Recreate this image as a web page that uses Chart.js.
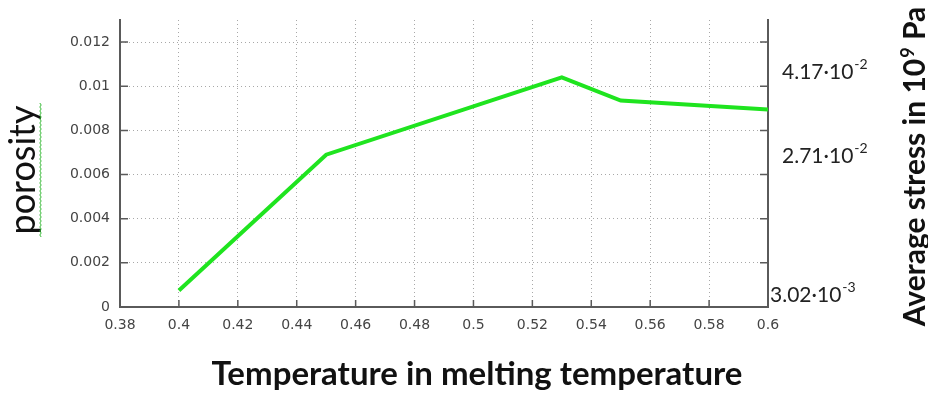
<!DOCTYPE html>
<html>
<head>
<meta charset="utf-8">
<script src="https://cdn.jsdelivr.net/npm/chart.js@4"></script>
<style>
  html, body { margin: 0; padding: 0; background: #fff; }
  canvas { display: block; }
</style>
</head>
<body>
<canvas id="myChart" width="928" height="396"></canvas>
<script>
// values
const temperature = [0.40, 0.45, 0.53, 0.55, 0.60];
const porosity = [0.00075, 0.0069, 0.0104, 0.00935, 0.00895];

const xTickValues = [0.38, 0.40, 0.42, 0.44, 0.46, 0.48, 0.50, 0.52, 0.54, 0.56, 0.58, 0.60];
const yTickValues = [0, 0.002, 0.004, 0.006, 0.008, 0.010, 0.012];

// right (stress) axis labels
const stressTickValues = [0.00302, 0.0271, 0.0417];
const stressTickMantissa = ['3.02', '2.71', '4.17'];
const stressTickExponent = ['-3', '-2', '-2'];
const stressLabelIndent = [2, 14, 14];

const axisColor = '#5a5a5a';
const tickFont = { family: 'DejaVu Sans', size: 14 };
const titleFamily = 'Lato';

const ctx = document.getElementById('myChart');

// gnuplot style inner tick marks + free placed titles
const decorations = {
    id: 'decorations',
    afterDraw(chart) {
        const c = chart.ctx;
        const x = chart.scales.x, y = chart.scales.y, y2 = chart.scales.y2;
        const area = chart.chartArea;

        c.save();
        c.strokeStyle = axisColor;
        c.lineWidth = 1.5;
        c.beginPath();
        yTickValues.forEach(v => {
            const py = y.getPixelForValue(v);
            c.moveTo(area.left, py); c.lineTo(area.left + 8, py);
            c.moveTo(area.right, py); c.lineTo(area.right - 8, py);
        });
        xTickValues.forEach(v => {
            const px = x.getPixelForValue(v);
            c.moveTo(px, area.bottom); c.lineTo(px, area.bottom - 7);
        });
        c.stroke();

        // stress labels with superscript exponent
        c.fillStyle = '#222';
        c.textBaseline = 'middle';
        c.textAlign = 'left';
        stressTickValues.forEach((v, i) => {
            const py = y2.getPixelForValue(v);
            const px = area.right + stressLabelIndent[i];
            c.font = '21px ' + titleFamily;
            const main = stressTickMantissa[i] + '\u00b710';
            c.fillText(main, px, py);
            const w = c.measureText(main).width;
            c.font = '14px ' + titleFamily;
            c.fillText(stressTickExponent[i], px + w + 1, py - 8);
        });

        c.textBaseline = 'alphabetic';

        // left title
        c.save();
        c.translate(35, 170);
        c.rotate(-Math.PI / 2);
        c.font = '36px ' + titleFamily;
        c.fillStyle = '#111';
        c.textAlign = 'center';
        c.fillText('porosity', 0, 0);
        c.restore();

        // spell check squiggle under "porosity"
        c.strokeStyle = '#33b833';
        c.lineWidth = 1;
        c.beginPath();
        for (let py = 103, k = 0; py <= 237; py += 2, k++) {
            const px = 40 + (k % 2 ? 1.2 : -0.2);
            if (k === 0) c.moveTo(px, py); else c.lineTo(px, py);
        }
        c.stroke();

        // bottom title
        c.font = 'bold 33px ' + titleFamily;
        c.fillStyle = '#111';
        c.textAlign = 'center';
        c.fillText('Temperature in melting temperature', 477, 385);

        // right title with superscript 9
        c.save();
        c.translate(925, 167);
        c.rotate(-Math.PI / 2);
        c.textAlign = 'left';
        const parts = ['Average stress in 10', '9', ' Pa'];
        c.font = 'bold 30px ' + titleFamily;
        const w0 = c.measureText(parts[0]).width;
        const w2 = c.measureText(parts[2]).width;
        c.font = 'bold 18px ' + titleFamily;
        const w1 = c.measureText(parts[1]).width;
        let sx = -(w0 + w1 + w2) / 2;
        c.font = 'bold 30px ' + titleFamily;
        c.fillText(parts[0], sx, 0);
        c.font = 'bold 18px ' + titleFamily;
        c.fillText(parts[1], sx + w0 + 1, -11);
        c.font = 'bold 30px ' + titleFamily;
        c.fillText(parts[2], sx + w0 + w1 + 1, 0);
        c.restore();

        c.restore();
    }
};

new Chart(ctx, {
    type: 'line',
    data: {
        datasets: [{
            label: 'porosity',
            data: temperature.map((t, i) => ({ x: t, y: porosity[i] })),
            borderColor: '#1fe41f',
            borderWidth: 4,
            pointRadius: 0,
            tension: 0,
            yAxisID: 'y'
        }]
    },
    options: {
        responsive: false,
        animation: false,
        layout: { padding: { top: 20 } },
        plugins: {
            legend: { display: false },
            tooltip: { enabled: false }
        },
        scales: {
            x: {
                type: 'linear',
                min: 0.38,
                max: 0.6,
                afterBuildTicks: s => { s.ticks = xTickValues.map(v => ({ value: v })); },
                afterFit: s => { s.height = 89; },
                ticks: {
                    autoSkip: false,
                    maxRotation: 0,
                    padding: 10,
                    color: '#444',
                    font: tickFont,
                    callback: v => String(v)
                },
                grid: { color: '#a8a8a8', lineWidth: 1, drawTicks: false },
                border: { display: true, color: axisColor, width: 2, dash: [1, 3] }
            },
            y: {
                type: 'linear',
                position: 'left',
                min: 0,
                max: 0.013,
                afterBuildTicks: s => { s.ticks = yTickValues.map(v => ({ value: v })); },
                afterFit: s => { s.width = 120; },
                ticks: {
                    autoSkip: false,
                    padding: 10,
                    color: '#444',
                    font: tickFont,
                    callback: v => String(v)
                },
                grid: { color: '#a8a8a8', lineWidth: 1, drawTicks: false },
                border: { display: true, color: axisColor, width: 2, dash: [1, 3] }
            },
            y2: {
                type: 'linear',
                position: 'right',
                min: 0.001,
                max: 0.0508,
                afterFit: s => { s.width = 160; },
                ticks: { display: false },
                grid: { display: false, drawTicks: false },
                border: { display: true, color: axisColor, width: 2 }
            }
        }
    },
    plugins: [decorations]
});
</script>
</body>
</html>
